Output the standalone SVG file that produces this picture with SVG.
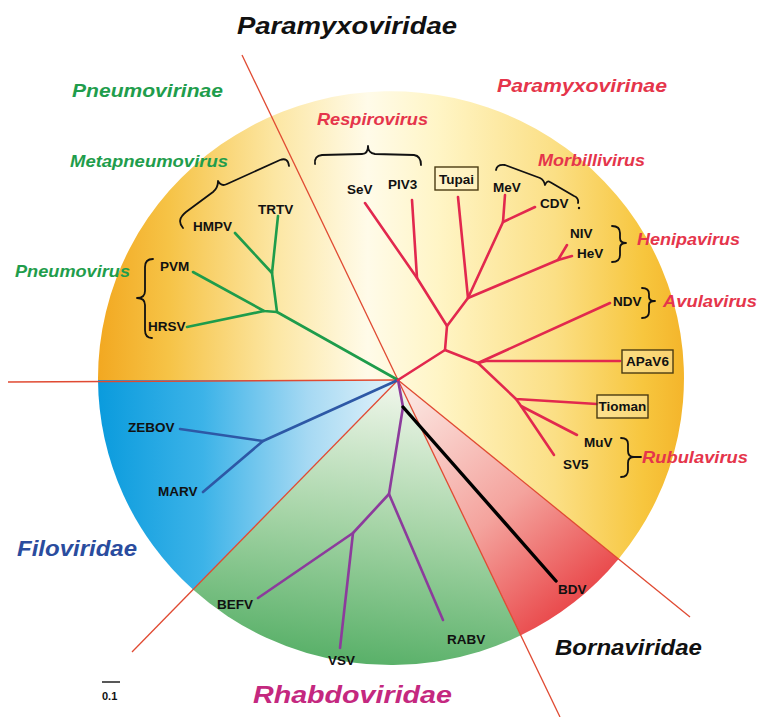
<svg xmlns="http://www.w3.org/2000/svg" width="758" height="717" viewBox="0 0 758 717">
<defs>
<linearGradient id="gY" gradientUnits="userSpaceOnUse" x1="98" y1="0" x2="684" y2="0">
<stop offset="0" stop-color="#f2a821"/>
<stop offset="0.12" stop-color="#f6c346"/>
<stop offset="0.3" stop-color="#fce6a2"/>
<stop offset="0.46" stop-color="#fffbe9"/>
<stop offset="0.58" stop-color="#fff5c6"/>
<stop offset="0.78" stop-color="#fbdf85"/>
<stop offset="0.93" stop-color="#f7c63e"/>
<stop offset="1" stop-color="#f4b52b"/>
</linearGradient>
<linearGradient id="gB" gradientUnits="userSpaceOnUse" x1="98" y1="0" x2="398" y2="0">
<stop offset="0" stop-color="#0a9bdd"/>
<stop offset="0.35" stop-color="#3cb3e8"/>
<stop offset="0.7" stop-color="#a6d9f3"/>
<stop offset="1" stop-color="#e4f3fa"/>
</linearGradient>
<linearGradient id="gG" gradientUnits="userSpaceOnUse" x1="398" y1="390" x2="360" y2="665">
<stop offset="0" stop-color="#edf5e8"/>
<stop offset="0.5" stop-color="#a5d4a6"/>
<stop offset="1" stop-color="#58b068"/>
</linearGradient>
<linearGradient id="gR" gradientUnits="userSpaceOnUse" x1="415" y1="395" x2="600" y2="615">
<stop offset="0" stop-color="#fbe3de"/>
<stop offset="0.5" stop-color="#f4a39d"/>
<stop offset="1" stop-color="#e7363a"/>
</linearGradient>
</defs>
<style>
.div{stroke:#e04a32;stroke-width:1.3;fill:none}
.br{fill:none;stroke-width:2.6;stroke-linecap:round;stroke-linejoin:round}
.pn{stroke:#1e9c4b}
.pm{stroke:#e2284e}
.fi{stroke:#2d58a6}
.rh{stroke:#8c3b9c}
.bo{stroke:#000;stroke-width:3.4}
.brace{fill:none;stroke:#111;stroke-width:1.8;stroke-linecap:round;stroke-linejoin:round}
.lb{font-family:"Liberation Sans",Arial,sans-serif;font-weight:bold;font-size:13.5px;fill:#111}
.bx{fill:#fff6d2;fill-opacity:0.4;stroke:#4a3b12;stroke-width:1.4}
.it{font-family:"Liberation Sans",Arial,sans-serif;font-weight:bold;font-style:italic}
.gn{fill:#1f9d4c}
.rd{fill:#e5354b}
</style>
<rect width="758" height="717" fill="#ffffff"/>
<g id="sectors">
<path d="M398,380 L98,380 A293,287 0 1 1 618.6,559 Z" fill="url(#gY)"/>
<path d="M398,380 L618.6,559 A293,287 0 0 1 520.8,635.3 Z" fill="url(#gR)"/>
<path d="M398,380 L520.8,635.3 A293,287 0 0 1 193,589.6 Z" fill="url(#gG)"/>
<path d="M398,380 L193,589.6 A293,287 0 0 1 98,380 Z" fill="url(#gB)"/>
</g>
<g id="dividers">
<line class="div" x1="8" y1="382" x2="398" y2="380"/>
<line class="div" x1="242" y1="55" x2="398" y2="380"/>
<line class="div" x1="398" y1="380" x2="132" y2="652"/>
<line class="div" x1="398" y1="380" x2="560" y2="717"/>
<line class="div" x1="398" y1="380" x2="690" y2="617"/>
</g>
<g id="connectors">
<polyline class="br pn" points="398,380 277,312 272,273 235,233"/>
<polyline class="br pn" points="272,273 278,216"/>
<polyline class="br pn" points="277,312 264,311 193,272"/>
<polyline class="br pn" points="264,311 187,327"/>
<polyline class="br fi" points="398,380 263,441 180,429"/>
<polyline class="br fi" points="263,441 203,492"/>
<polyline class="br rh" points="398,380 403,407 389,494 353,533 258,598"/>
<polyline class="br rh" points="353,533 340,648"/>
<polyline class="br rh" points="389,494 443,620"/>
<polyline class="br bo" points="403,407 556,581"/>
<polyline class="br pm" points="398,380 445,350 447,326 417,278 365,203"/>
<polyline class="br pm" points="417,278 412,200"/>
<polyline class="br pm" points="447,326 468,298 458,197"/>
<polyline class="br pm" points="468,298 503,222 505,195"/>
<polyline class="br pm" points="503,222 535,207"/>
<polyline class="br pm" points="468,298 558,260 567,245"/>
<polyline class="br pm" points="558,260 572,256"/>
<polyline class="br pm" points="445,350 478,363 610,303"/>
<polyline class="br pm" points="478,363 486,361 620,361"/>
<polyline class="br pm" points="478,363 516,399 597,404"/>
<polyline class="br pm" points="516,399 521,406 577,435"/>
<polyline class="br pm" points="521,406 554,455"/>
</g>
<g id="braces">
<path class="brace" d="M153,259 Q145,259 145,267 L145,291 Q145,298 137,298 Q145,298 145,305 L145,330 Q145,338 152,338"/>
<path class="brace" d="M183,228 Q176,220 186,212 L213,192 Q218,188 218,181 Q221,187 227,184 L280,160 Q288,157 289,166"/>
<path class="brace" d="M315,164 Q314,156 322,155 L362,154 Q368,154 368,146 Q368,153 375,154 L414,155 Q421,156 421,165"/>
<path class="brace" d="M496,170 Q497,164 505,165 L540,178 Q544,180 545,185 Q547,180 550,182 L574,196 Q579,198 578,203"/>
<circle cx="579" cy="208" r="1.2" fill="#111"/>
<path class="brace" d="M612,226 Q620,226 620,233 L620,238 Q620,243 626,243 Q620,243 620,248 L620,255 Q620,262 612,262"/>
<path class="brace" d="M642,288 Q649,288 649,294 L649,297 Q649,301 655,301 Q649,301 649,305 L649,312 Q649,318 642,318"/>
<path class="brace" d="M621,438 Q628,438 628,444 L628,451 Q628,457 634,457 Q628,457 628,463 L628,470 Q628,477 621,477 M634,457 L641,457"/>
</g>
<g id="n-TRTV"><text class="lb" x="258" y="214">TRTV</text></g>
<g id="n-HMPV"><text class="lb" x="193" y="231">HMPV</text></g>
<g id="n-PVM"><text class="lb" x="160" y="271">PVM</text></g>
<g id="n-HRSV"><text class="lb" x="148" y="331">HRSV</text></g>
<g id="n-SeV"><text class="lb" x="347" y="194">SeV</text></g>
<g id="n-PIV3"><text class="lb" x="388" y="189">PIV3</text></g>
<g id="n-Tupai"><rect class="bx" x="435" y="167" width="43" height="23"/><text class="lb" x="456.5" y="184" text-anchor="middle">Tupai</text></g>
<g id="n-MeV"><text class="lb" x="493" y="192">MeV</text></g>
<g id="n-CDV"><text class="lb" x="540" y="208">CDV</text></g>
<g id="n-NIV"><text class="lb" x="570" y="238">NIV</text></g>
<g id="n-HeV"><text class="lb" x="577" y="258">HeV</text></g>
<g id="n-NDV"><text class="lb" x="613" y="306">NDV</text></g>
<g id="n-APaV6"><rect class="bx" x="622" y="350" width="51" height="23"/><text class="lb" x="647.5" y="366" text-anchor="middle">APaV6</text></g>
<g id="n-Tioman"><rect class="bx" x="597" y="395" width="51" height="23"/><text class="lb" x="622.5" y="411" text-anchor="middle">Tioman</text></g>
<g id="n-MuV"><text class="lb" x="584" y="447">MuV</text></g>
<g id="n-SV5"><text class="lb" x="563" y="469">SV5</text></g>
<g id="n-ZEBOV"><text class="lb" x="128" y="432">ZEBOV</text></g>
<g id="n-MARV"><text class="lb" x="158" y="496">MARV</text></g>
<g id="n-BEFV"><text class="lb" x="217" y="609">BEFV</text></g>
<g id="n-VSV"><text class="lb" x="328" y="665">VSV</text></g>
<g id="n-RABV"><text class="lb" x="447" y="644">RABV</text></g>
<g id="n-BDV"><text class="lb" x="558" y="594">BDV</text></g>
<g id="scale">
<line x1="102" y1="682" x2="120" y2="682" stroke="#111" stroke-width="1.4"/>
<text class="lb" x="102" y="700" style="font-size:11px">0.1</text>
</g>
<g id="group-labels">
<text class="it" x="237" y="34" font-size="24" fill="#111" textLength="220" lengthAdjust="spacingAndGlyphs">Paramyxoviridae</text>
<text class="it gn" x="72" y="97" font-size="18" textLength="151" lengthAdjust="spacingAndGlyphs">Pneumovirinae</text>
<text class="it rd" x="497" y="92" font-size="18" textLength="170" lengthAdjust="spacingAndGlyphs">Paramyxovirinae</text>
<text class="it rd" x="317" y="125" font-size="17" textLength="111" lengthAdjust="spacingAndGlyphs">Respirovirus</text>
<text class="it gn" x="70" y="167" font-size="16" textLength="158" lengthAdjust="spacingAndGlyphs">Metapneumovirus</text>
<text class="it rd" x="538" y="166" font-size="17" textLength="107" lengthAdjust="spacingAndGlyphs">Morbillivirus</text>
<text class="it gn" x="15" y="277" font-size="17" textLength="115" lengthAdjust="spacingAndGlyphs">Pneumovirus</text>
<text class="it rd" x="637" y="245" font-size="17" textLength="103" lengthAdjust="spacingAndGlyphs">Henipavirus</text>
<text class="it rd" x="663" y="307" font-size="17" textLength="94" lengthAdjust="spacingAndGlyphs">Avulavirus</text>
<text class="it rd" x="642" y="463" font-size="17" textLength="106" lengthAdjust="spacingAndGlyphs">Rubulavirus</text>
<text class="it" x="17" y="556" font-size="22" fill="#2a4c9e" textLength="120" lengthAdjust="spacingAndGlyphs">Filoviridae</text>
<text class="it" x="253" y="703" font-size="23" fill="#c4287f" textLength="199" lengthAdjust="spacingAndGlyphs">Rhabdoviridae</text>
<text class="it" x="555" y="655" font-size="22" fill="#111" textLength="147" lengthAdjust="spacingAndGlyphs">Bornaviridae</text>
</g>
</svg>
